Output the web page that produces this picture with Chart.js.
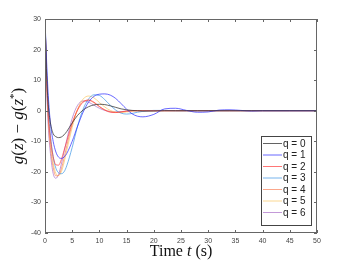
<!DOCTYPE html>
<html>
<head>
<meta charset="utf-8">
<script src="https://cdn.jsdelivr.net/npm/chart.js@4"></script>
<style>
  html, body { margin: 0; padding: 0; background: #fff; }
  #wrap { width: 350px; height: 263px; }
</style>
</head>
<body>
<div id="wrap"><canvas id="chart" width="350" height="263"></canvas></div>
<script>
// sample times (s)
const times = [0, 0.3, 0.6, 1, 1.5, 2, 2.5, 3, 3.5, 4, 5, 6, 7, 8, 9, 10, 11, 12, 13, 14, 15, 16, 17, 18, 20, 22, 24, 26, 28, 30, 32, 34, 36, 38, 40, 45, 50];

// g(z) - g(z*) for each q
const q0 = [30, 12, 2, -4, -7.5, -8.5, -8.8, -8.6, -7.9, -6.8, -4, -1.5, 0.2, 1.3, 1.9, 2.1, 2, 1.6, 1.1, 0.6, 0.3, 0.1, 0, -0.1, -0.1, 0, 0, 0, 0, 0, 0, 0, 0, 0, 0, 0, 0];
const q1 = [30, 16, 5, -4, -10, -13.5, -15.2, -15.6, -15.2, -14, -10, -5, -0.5, 2.8, 4.7, 5.4, 5.5, 5.1, 4, 2.3, 0.5, -1, -1.8, -2, -1.2, 0.6, 0.8, 0.1, -0.5, -0.4, 0.2, 0.3, 0.1, -0.1, 0, 0, 0];
const q2 = [30, 11, -1, -9, -15, -17.7, -17.8, -16, -13, -10, -4, 0.2, 2.8, 3.5, 2.8, 1.4, 0.2, -0.5, -0.6, -0.4, -0.1, 0, 0, 0, 0, 0, 0, 0, 0, 0, 0, 0, 0, 0, 0, 0, 0];
const q3 = [30, 13, 1, -8, -15, -18.8, -20.3, -20.6, -20, -18, -12, -5, 0.5, 3.8, 5.2, 5, 3.6, 1.8, 0.2, -0.8, -1.1, -0.9, -0.5, -0.2, 0.1, 0.1, 0, 0, 0, 0, 0, 0, 0, 0, 0, 0, 0];
const q4 = [30, 10, -3, -12, -18.5, -21.3, -21.2, -19, -15.5, -11.5, -4.5, 0.5, 3, 3.4, 2.6, 1.3, 0.3, -0.3, -0.5, -0.4, -0.2, 0, 0, 0, 0, 0, 0, 0, 0, 0, 0, 0, 0, 0, 0, 0, 0];
const q5 = [30, 11, -1, -10, -17, -20.5, -21.2, -20, -17, -13, -5.5, 0.5, 3.8, 4.8, 4.2, 2.7, 1.2, 0.1, -0.5, -0.6, -0.4, -0.2, 0, 0, 0, 0, 0, 0, 0, 0, 0, 0, 0, 0, 0, 0, 0];
const q6 = [30, 8, -5, -14, -20.5, -22.1, -20.8, -17.5, -13.5, -9.5, -2.5, 1.8, 3.2, 2.8, 1.8, 0.8, 0.1, -0.3, -0.4, -0.3, -0.1, 0, 0, 0, 0, 0, 0, 0, 0, 0, 0, 0, 0, 0, 0, 0, 0];

const seriesNames = ['q = 0', 'q = 1', 'q = 2', 'q = 3', 'q = 4', 'q = 5', 'q = 6'];
const seriesData = [q0, q1, q2, q3, q4, q5, q6];
const seriesColors = [
  'rgba(60,60,60,0.8)',
  'rgba(40,40,255,0.7)',
  'rgba(255,60,60,0.7)',
  'rgba(60,150,230,0.7)',
  'rgba(250,130,90,0.7)',
  'rgba(250,200,100,0.7)',
  'rgba(170,110,200,0.7)'
];

const yTicks = [-40, -30, -20, -10, 0, 10, 20, 30];
const xTicks = [0, 5, 10, 15, 20, 25, 30, 35, 40, 45, 50];

const axisColor = '#666';

// box, inward ticks, axis titles and legend
const decor = {
  id: 'decor',
  afterDraw(chart) {
    const { ctx, chartArea: a, scales: { x, y } } = chart;
    ctx.save();
    ctx.strokeStyle = axisColor;
    ctx.lineWidth = 1;
    ctx.strokeRect(a.left + 0.5, a.top + 0.5, a.right - a.left - 1, a.bottom - a.top - 1);
    ctx.beginPath();
    xTicks.forEach(v => {
      const px = Math.round(x.getPixelForValue(v)) + 0.5;
      ctx.moveTo(px, a.bottom); ctx.lineTo(px, a.bottom - 3);
      ctx.moveTo(px, a.top); ctx.lineTo(px, a.top + 3);
    });
    yTicks.forEach(v => {
      const py = Math.round(y.getPixelForValue(v)) + 0.5;
      ctx.moveTo(a.left, py); ctx.lineTo(a.left + 3, py);
      ctx.moveTo(a.right, py); ctx.lineTo(a.right - 3, py);
    });
    ctx.stroke();

    // x title: Time t (s)
    ctx.fillStyle = '#111';
    ctx.textBaseline = 'alphabetic';
    const serif = '"Liberation Serif", "DejaVu Serif", serif';
    const xParts = [
      ['Time ', '16px ' + serif],
      ['t', 'italic 16px ' + serif],
      [' (s)', '16px ' + serif]
    ];
    let w = 0;
    xParts.forEach(p => { ctx.font = p[1]; w += ctx.measureText(p[0]).width; });
    let cx = (a.left + a.right) / 2 - w / 2;
    xParts.forEach(p => { ctx.font = p[1]; ctx.fillText(p[0], cx, 256); cx += ctx.measureText(p[0]).width; });

    // y title: g(z) - g(z*)
    const yParts = [
      ['g', 'italic 17px ' + serif, 0],
      ['(', '17px ' + serif, 0],
      ['z', 'italic 17px ' + serif, 0],
      [')', '17px ' + serif, 0],
      [' \u2212 ', '17px ' + serif, 0],
      ['g', 'italic 17px ' + serif, 0],
      ['(', '17px ' + serif, 0],
      ['z', 'italic 17px ' + serif, 0],
      ['*', '11px ' + serif, -6],
      [')', '17px ' + serif, 0]
    ];
    ctx.translate(23, (a.top + a.bottom) / 2);
    ctx.rotate(-Math.PI / 2);
    w = 0;
    yParts.forEach(p => { ctx.font = p[1]; w += ctx.measureText(p[0]).width; });
    cx = -w / 2;
    yParts.forEach(p => { ctx.font = p[1]; ctx.fillText(p[0], cx, p[2]); cx += ctx.measureText(p[0]).width; });
    ctx.restore();

    // legend
    ctx.save();
    const bx = a.right - 56, by = 136, bw = 50, bh = 89;
    ctx.fillStyle = '#fff';
    ctx.fillRect(bx, by, bw, bh);
    ctx.strokeStyle = '#444';
    ctx.lineWidth = 1;
    ctx.strokeRect(bx + 0.5, by + 0.5, bw, bh);
    ctx.font = '10px "Liberation Sans", Arial, sans-serif';
    ctx.textBaseline = 'middle';
    chart.data.datasets.forEach((ds, i) => {
      const ry = by + 7.5 + i * 11.5;
      ctx.strokeStyle = ds.borderColor;
      ctx.beginPath();
      ctx.moveTo(bx + 2, ry); ctx.lineTo(bx + 21, ry);
      ctx.stroke();
      ctx.fillStyle = '#222';
      ctx.fillText(ds.label, bx + 22, ry + 0.5);
    });
    ctx.restore();
  }
};

new Chart(document.getElementById('chart'), {
  type: 'line',
  data: {
    datasets: seriesNames.map((name, i) => ({
      label: name,
      data: times.map((t, k) => ({ x: t, y: seriesData[i][k] })),
      borderColor: seriesColors[i],
      borderWidth: 1,
      pointRadius: 0,
      cubicInterpolationMode: 'monotone',
      fill: false
    }))
  },
  options: {
    responsive: false,
    animation: false,
    layout: { padding: { top: 19, right: 33, left: 0, bottom: 0 } },
    plugins: { legend: { display: false }, tooltip: { enabled: false } },
    scales: {
      x: {
        type: 'linear',
        min: 0, max: 50,
        afterBuildTicks: s => { s.ticks = xTicks.map(v => ({ value: v })); },
        afterFit: s => { s.height = 30; },
        grid: { display: false, drawTicks: false },
        border: { display: false },
        ticks: { color: '#444', font: { family: '"Liberation Sans", Arial, sans-serif', size: 7 }, padding: 4, maxRotation: 0 }
      },
      y: {
        min: -40, max: 30,
        afterBuildTicks: s => { s.ticks = yTicks.map(v => ({ value: v })); },
        afterFit: s => { s.width = 45; },
        grid: { display: false, drawTicks: false },
        border: { display: false },
        ticks: { color: '#444', font: { family: '"Liberation Sans", Arial, sans-serif', size: 7 }, padding: 4 }
      }
    }
  },
  plugins: [decor]
});
</script>
</body>
</html>
